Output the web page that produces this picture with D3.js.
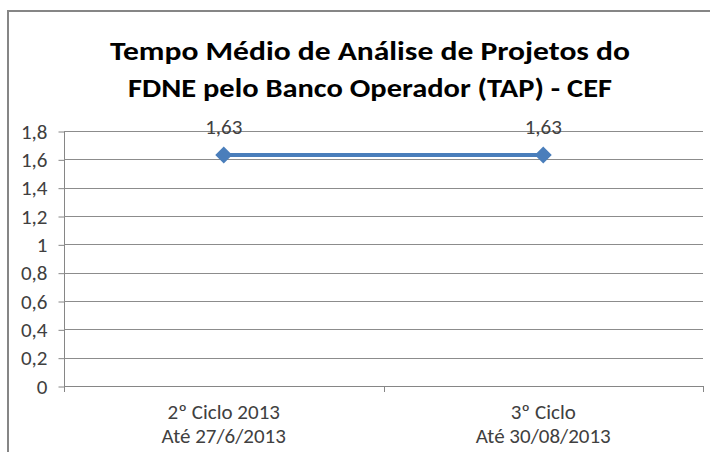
<!DOCTYPE html>
<html><head><meta charset="utf-8">
<script src="https://cdn.jsdelivr.net/npm/d3@7"></script>
<style>body{margin:0;background:#fff}svg{display:block}</style>
</head><body>
<svg id="c" width="710" height="452"></svg>
<script>
const titleLines = ["Tempo Médio de Análise de Projetos do", "FDNE pelo Banco Operador (TAP) - CEF"];
const categories = [["2º Ciclo 2013", "Até 27/6/2013"], ["3º Ciclo", "Até 30/08/2013"]];
const values = [1.63, 1.63];
const valueLabels = ["1,63", "1,63"];
const yTicks = [0, 0.2, 0.4, 0.6, 0.8, 1, 1.2, 1.4, 1.6, 1.8];

(function(){
const svg = d3.select("#c");
const font = "Carlito, Lato, 'Open Sans', sans-serif";
const pL = 64, pR = 703, pT = 131, pB = 386;
const fs = "21px";

svg.append("path").attr("d", "M8,452V11H720").attr("fill", "none")
  .attr("stroke", "#868686").attr("stroke-width", 2);

const tw = [520, 484];
titleLines.forEach((t, i) => {
  svg.append("text").attr("x", 370).attr("y", 60 + i * 37).attr("text-anchor", "middle")
    .style("font-family", font).style("font-weight", "bold").style("font-size", "27px")
    .attr("textLength", tw[i]).attr("lengthAdjust", "spacingAndGlyphs")
    .attr("fill", "#000").text(t);
});

const x = d3.scaleBand().domain(d3.range(categories.length)).range([pL, pR]);
const y = d3.scaleLinear().domain([0, 1.8]).range([pB, pT]);

const yAxis = d3.axisLeft(y).tickValues(yTicks).tickSize(6).tickPadding(11)
  .tickFormat(d => String(d).replace(".", ","));
const gy = svg.append("g").attr("transform", `translate(${pL + 0.5},0.5)`).call(yAxis);
gy.select(".domain").attr("stroke", "#868686").attr("d", `M0,${pT}V${pB}`);
gy.selectAll(".tick line").attr("stroke", "#868686");
gy.selectAll(".tick text").style("font-family", font).style("font-size", fs).attr("fill", "#404040");

svg.append("g").selectAll("line").data(yTicks.filter(d => d > 0)).join("line")
  .attr("x1", pL).attr("x2", pR)
  .attr("y1", d => Math.round(y(d)) + 0.5).attr("y2", d => Math.round(y(d)) + 0.5)
  .attr("stroke", "#8c8c8c").attr("stroke-width", 1);

const xAxis = d3.axisBottom(x).tickSize(0).tickFormat("");
const gx = svg.append("g").attr("transform", `translate(0,${pB + 0.5})`).call(xAxis);
gx.select(".domain").attr("stroke", "#868686").attr("d", `M${pL},0H${pR}`);
const bounds = d3.range(categories.length + 1).map(i => pL + i * x.step());
svg.append("g").selectAll("line").data(bounds).join("line")
  .attr("x1", d => Math.round(d) + 0.5).attr("x2", d => Math.round(d) + 0.5)
  .attr("y1", pB).attr("y2", pB + 6).attr("stroke", "#868686");

const cx = i => x(i) + x.bandwidth() / 2;
categories.forEach((lines, i) => {
  lines.forEach((t, j) => {
    svg.append("text").attr("x", cx(i)).attr("y", 419 + j * 24).attr("text-anchor", "middle")
      .style("font-family", font).style("font-size", fs).attr("fill", "#404040").text(t);
  });
});

const line = d3.line().x((d, i) => cx(i)).y(d => y(d));
svg.append("path").datum(values).attr("d", line).attr("fill", "none")
  .attr("stroke", "#4a7ebb").attr("stroke-width", 4);

svg.append("g").selectAll("path").data(values).join("path")
  .attr("transform", (d, i) => `translate(${cx(i)},${y(d)})`)
  .attr("d", "M0,-8.5L8.5,0L0,8.5L-8.5,0Z").attr("fill", "#4a7ebb");

svg.append("g").selectAll("text").data(values).join("text")
  .attr("x", (d, i) => cx(i)).attr("y", d => y(d) - 21).attr("text-anchor", "middle")
  .style("font-family", font).style("font-size", fs).attr("fill", "#404040")
  .text((d, i) => valueLabels[i]);
})();
</script>
</body></html>
